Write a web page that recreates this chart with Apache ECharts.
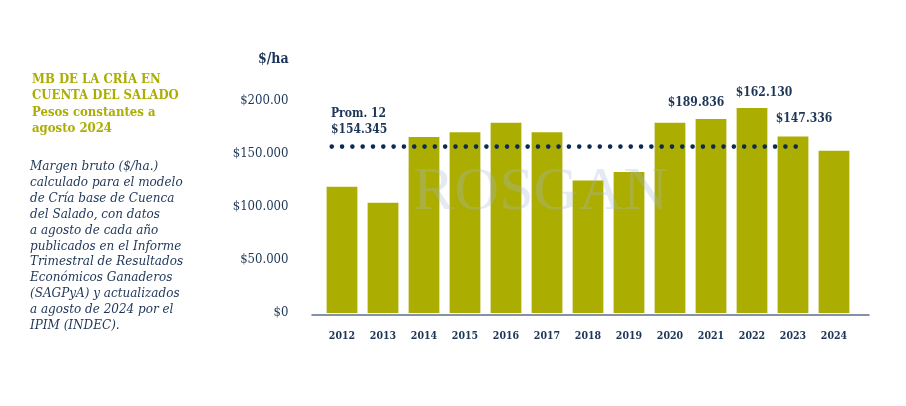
<!DOCTYPE html>
<html><head><meta charset="utf-8">
<script src="https://cdn.jsdelivr.net/npm/echarts@6/dist/echarts.min.js"></script>
<style>html,body{margin:0;padding:0;background:#fff}#c{width:906px;height:406px}</style>
</head><body><div id="c"></div>
<script>
const years = ['2012','2013','2014','2015','2016','2017','2018','2019','2020','2021','2022','2023','2024'];
const values = [119000,104000,166000,170500,179500,170500,125000,133000,179500,183000,193500,166500,153000];
const valueLabels = ['','','','','','','','','$189.836','','$162.130','$147.336',''];
const yTicks = ['$0','$50.000','$100.000','$150.000','$200.00'];
const avgValue = 157000;
const avgLabel = ['Prom. 12','$154.345'];
const avgStart = -0.25, avgEnd = 11.1;
const titleLines = ['MB DE LA CRÍA EN','CUENTA DEL SALADO','Pesos constantes a','agosto 2024'];
const noteLines = ['Margen bruto ($/ha.)','calculado para el modelo','de Cría base de Cuenca','del Salado, con datos','a agosto de cada año','publicados en el Informe','Trimestral de Resultados','Económicos Ganaderos','(SAGPyA) y actualizados','a agosto de 2024 por el','IPIM (INDEC).'];

const NAVY = '#1d3557';
const OLIVE = '#abae00';
const SLAB = '"DejaVu Serif Condensed","DejaVu Serif",serif';
const labelOffsets = {8:[26,-9], 10:[12,-4], 11:[11,-7]};

const chart = echarts.init(document.getElementById('c'), null, {renderer:'canvas'});
chart.setOption({
  animation:false,
  backgroundColor:'#fff',
  title:[
    {text:titleLines.slice(0,2).join('\n'), left:27, top:66, textStyle:{fontFamily:SLAB,fontWeight:'bold',fontSize:13,color:OLIVE,lineHeight:16.5}},
    {text:titleLines.slice(2).join('\n'), left:27, top:99, textStyle:{fontFamily:SLAB,fontWeight:'bold',fontSize:13,color:OLIVE,lineHeight:16.5}},
    {text:noteLines.join('\n'), left:25, top:154, textStyle:{fontFamily:'"DejaVu Serif",serif',fontStyle:'italic',fontWeight:'normal',fontSize:12,color:NAVY,lineHeight:15.9}},
    {text:'$/ha', left:253, top:47, textStyle:{fontFamily:SLAB,fontWeight:'bold',fontSize:14,color:NAVY}},
    {text:avgLabel.join('\n'), left:326, top:101, textStyle:{fontFamily:SLAB,fontWeight:'bold',fontSize:12,color:NAVY,lineHeight:16}}
  ],
  graphic:[{type:'text', left:413, top:162, z:100, silent:true,
    style:{text:'ROSGAN', font:'normal 62px "Liberation Serif", serif', fill:'rgba(170,182,212,0.3)'}}],
  grid:[
    {left:321.5, right:906-854.5, top:101, height:212},
    {left:312, right:906-869, top:314, height:1}
  ],
  xAxis:[
    {type:'category', gridIndex:0, data:years, axisLine:{show:false}, axisTick:{show:false},
     axisLabel:{margin:18, fontFamily:SLAB, fontWeight:'bold', fontSize:10.5, color:NAVY}},
    {type:'value', gridIndex:0, min:-0.5, max:12.5, show:false},
    {type:'value', gridIndex:1, min:0, max:1, axisLine:{show:true, lineStyle:{color:'#5b6f8f', width:1.5}}, axisTick:{show:false}, axisLabel:{show:false}, splitLine:{show:false}}
  ],
  yAxis:[
    {type:'value', gridIndex:0, min:0, max:200000, interval:50000, splitLine:{show:false}, axisLine:{show:false}, axisTick:{show:false},
     axisLabel:{margin:33, fontFamily:SLAB, fontSize:13, color:NAVY, formatter:(v)=>yTicks[Math.round(v/50000)]}},
    {type:'value', gridIndex:1, min:0, max:1, show:false}
  ],
  series:[
    {type:'bar', xAxisIndex:0, yAxisIndex:0, barCategoryGap:'25%', itemStyle:{color:OLIVE},
     data: values.map((v,i)=>({value:v, label:{show:!!valueLabels[i], position:'top', formatter:valueLabels[i], offset:labelOffsets[i]||[0,0],
       fontFamily:SLAB, fontWeight:'bold', fontSize:12, color:NAVY}}))},
    {type:'line', xAxisIndex:1, yAxisIndex:0, symbol:'none', z:5,
     lineStyle:{color:'#0d2a52', width:4.6, type:[0.01,10.3], cap:'round'},
     data:[[avgStart,avgValue],[avgEnd,avgValue]]}
  ]
});
</script></body></html>
